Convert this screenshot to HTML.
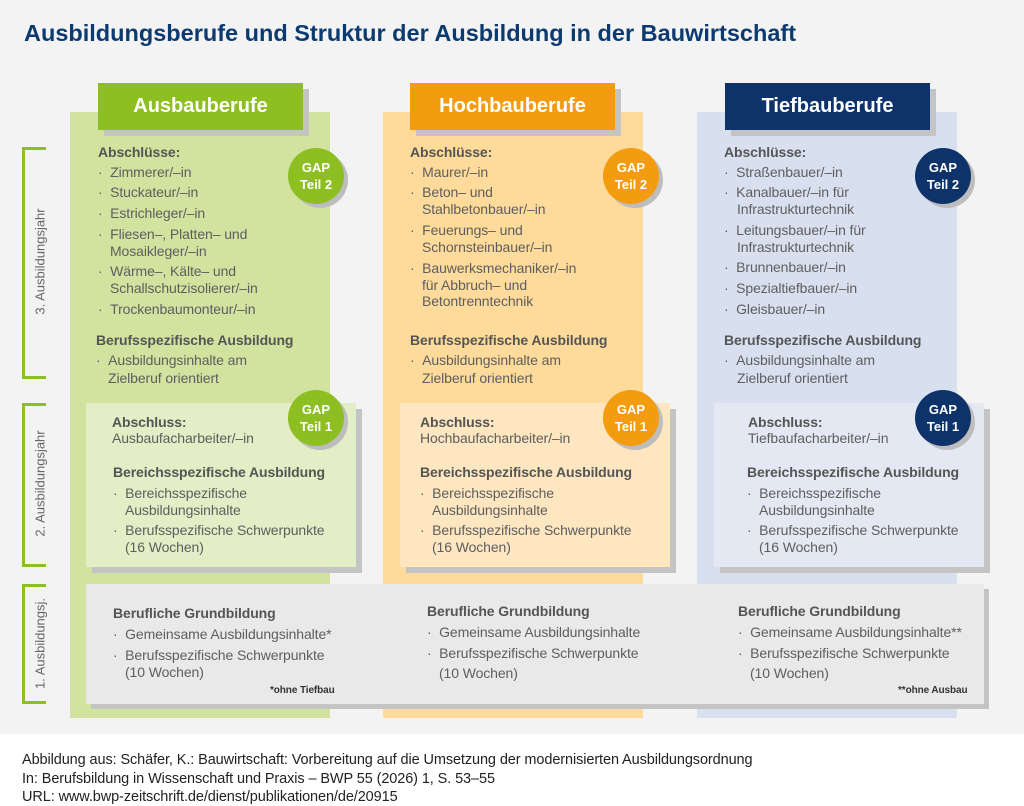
<!DOCTYPE html>
<html><head><meta charset="utf-8">
<style>
*{margin:0;padding:0;box-sizing:border-box}
body{width:1024px;height:806px;background:#fff;font-family:"Liberation Sans",sans-serif;position:relative;overflow:hidden}
.bg{position:absolute;left:0;top:0;width:1024px;height:734px;background:#f3f3f3}
.a{position:absolute}
.t{position:absolute;font-size:14px;line-height:18px;color:#5e5e5e;white-space:nowrap;letter-spacing:-0.1px}
.b{font-weight:bold;color:#555}
.hd{position:absolute;height:47px;color:#fff;font-weight:bold;font-size:20px;line-height:47px;text-align:center;box-shadow:6px 6px 0 #c4c4c4}
.gap{position:absolute;width:56px;height:56px;border-radius:50%;color:#fff;font-weight:bold;font-size:13px;line-height:17px;text-align:center;padding-top:11px;box-shadow:4px 4px 0 #bdbdbd}
.br{position:absolute;left:22px;width:24px;border:3px solid #8dbf22;border-right:none}
.vl{position:absolute;font-size:13px;color:#666;white-space:nowrap;transform:rotate(-90deg);transform-origin:center}
.ft{position:absolute;left:22px;font-size:14.5px;color:#222;white-space:nowrap;letter-spacing:-0.1px}
</style></head><body>
<div class="bg"></div>
<div class="a" style="left:24px;top:20px;font-size:23.5px;font-weight:bold;color:#0b3a70;white-space:nowrap;transform:scaleX(1.0);transform-origin:left top">Ausbildungsberufe und Struktur der Ausbildung in der Bauwirtschaft</div>

<div class="br" style="top:147px;height:232px"></div>
<div class="br" style="top:403px;height:164px"></div>
<div class="br" style="top:584px;height:120px"></div>
<div class="vl" style="left:-20px;top:254px;width:120px;text-align:center">3. Ausbildungsjahr</div>
<div class="vl" style="left:-20px;top:476px;width:120px;text-align:center">2. Ausbildungsjahr</div>
<div class="vl" style="left:-20px;top:636px;width:120px;text-align:center">1. Ausbildungsj.</div>

<div class="a" style="left:70px;top:112px;width:260px;height:606px;background:#d2e3a0"></div>
<div class="a" style="left:383px;top:112px;width:260px;height:606px;background:#fedb9b"></div>
<div class="a" style="left:697px;top:112px;width:260px;height:606px;background:#d8e0f0"></div>

<div class="hd" style="left:98px;top:83px;width:205px;background:#8dbf22">Ausbauberufe</div>
<div class="hd" style="left:410px;top:83px;width:205px;background:#f39c0f">Hochbauberufe</div>
<div class="hd" style="left:725px;top:83px;width:205px;background:#0d336a">Tiefbauberufe</div>

<div class="a" style="left:86px;top:403px;width:270px;height:164px;background:#e3edc6;box-shadow:6px 6px 0 #c4c4c4"></div>
<div class="a" style="left:400px;top:403px;width:270px;height:164px;background:#fde6c0;box-shadow:6px 6px 0 #c4c4c4"></div>
<div class="a" style="left:714px;top:403px;width:270px;height:164px;background:#e3e8f3;box-shadow:6px 6px 0 #c4c4c4"></div>
<div class="a" style="left:86px;top:584px;width:898px;height:120px;background:#e9e9e9;box-shadow:5px 5px 0 #c4c4c4"></div>

<div class="gap" style="left:288px;top:148px;background:#8dbf22">GAP<br>Teil 2</div>
<div class="gap" style="left:603px;top:148px;background:#f39c0f">GAP<br>Teil 2</div>
<div class="gap" style="left:915px;top:148px;background:#0d336a">GAP<br>Teil 2</div>
<div class="gap" style="left:288px;top:390px;background:#8dbf22">GAP<br>Teil 1</div>
<div class="gap" style="left:603px;top:390px;background:#f39c0f">GAP<br>Teil 1</div>
<div class="gap" style="left:915px;top:390px;background:#0d336a">GAP<br>Teil 1</div>

<div class="t b" style="left:98px;top:143px">Abschlüsse:</div>
<div class="t" style="left:98px;top:163px">· &nbsp;Zimmerer/–in</div>
<div class="t" style="left:98px;top:183px">· &nbsp;Stuckateur/–in</div>
<div class="t" style="left:98px;top:204px">· &nbsp;Estrichleger/–in</div>
<div class="t" style="left:98px;top:225px">· &nbsp;Fliesen–, Platten– und</div>
<div class="t" style="left:110px;top:242px">Mosaikleger/–in</div>
<div class="t" style="left:98px;top:262px">· &nbsp;Wärme–, Kälte– und</div>
<div class="t" style="left:110px;top:279px">Schallschutzisolierer/–in</div>
<div class="t" style="left:98px;top:300px">· &nbsp;Trockenbaumonteur/–in</div>
<div class="t b" style="left:96px;top:331px">Berufsspezifische Ausbildung</div>
<div class="t" style="left:96px;top:351px">· &nbsp;Ausbildungsinhalte am</div>
<div class="t" style="left:108px;top:369px">Zielberuf orientiert</div>

<div class="t b" style="left:112px;top:413px">Abschluss:</div>
<div class="t" style="left:112px;top:429px">Ausbaufacharbeiter/–in</div>
<div class="t b" style="left:113px;top:463px">Bereichsspezifische Ausbildung</div>
<div class="t" style="left:113px;top:484px">· &nbsp;Bereichsspezifische</div>
<div class="t" style="left:125px;top:501px">Ausbildungsinhalte</div>
<div class="t" style="left:113px;top:521px">· &nbsp;Berufsspezifische Schwerpunkte</div>
<div class="t" style="left:125px;top:538px">(16 Wochen)</div>

<div class="t b" style="left:113px;top:604px">Berufliche Grundbildung</div>
<div class="t" style="left:113px;top:625px">· &nbsp;Gemeinsame Ausbildungsinhalte*</div>
<div class="t" style="left:113px;top:646px">· &nbsp;Berufsspezifische Schwerpunkte</div>
<div class="t" style="left:125px;top:663px">(10 Wochen)</div>
<div class="t b" style="left:270px;top:682px;font-size:10px;color:#333">*ohne Tiefbau</div>

<div class="t b" style="left:410px;top:143px">Abschlüsse:</div>
<div class="t" style="left:410px;top:163px">· &nbsp;Maurer/–in</div>
<div class="t" style="left:410px;top:183px">· &nbsp;Beton– und</div>
<div class="t" style="left:422px;top:200px">Stahlbetonbauer/–in</div>
<div class="t" style="left:410px;top:221px">· &nbsp;Feuerungs– und</div>
<div class="t" style="left:422px;top:238px">Schornsteinbauer/–in</div>
<div class="t" style="left:410px;top:259px">· &nbsp;Bauwerksmechaniker/–in</div>
<div class="t" style="left:422px;top:276px">für Abbruch– und</div>
<div class="t" style="left:422px;top:292px">Betontrenntechnik</div>
<div class="t b" style="left:410px;top:331px">Berufsspezifische Ausbildung</div>
<div class="t" style="left:410px;top:351px">· &nbsp;Ausbildungsinhalte am</div>
<div class="t" style="left:422px;top:369px">Zielberuf orientiert</div>

<div class="t b" style="left:420px;top:413px">Abschluss:</div>
<div class="t" style="left:420px;top:429px">Hochbaufacharbeiter/–in</div>
<div class="t b" style="left:420px;top:463px">Bereichsspezifische Ausbildung</div>
<div class="t" style="left:420px;top:484px">· &nbsp;Bereichsspezifische</div>
<div class="t" style="left:432px;top:501px">Ausbildungsinhalte</div>
<div class="t" style="left:420px;top:521px">· &nbsp;Berufsspezifische Schwerpunkte</div>
<div class="t" style="left:432px;top:538px">(16 Wochen)</div>

<div class="t b" style="left:427px;top:602px">Berufliche Grundbildung</div>
<div class="t" style="left:427px;top:623px">· &nbsp;Gemeinsame Ausbildungsinhalte</div>
<div class="t" style="left:427px;top:644px">· &nbsp;Berufsspezifische Schwerpunkte</div>
<div class="t" style="left:439px;top:664px">(10 Wochen)</div>

<div class="t b" style="left:724px;top:143px">Abschlüsse:</div>
<div class="t" style="left:724px;top:163px">· &nbsp;Straßenbauer/–in</div>
<div class="t" style="left:724px;top:183px">· &nbsp;Kanalbauer/–in für</div>
<div class="t" style="left:737px;top:200px">Infrastrukturtechnik</div>
<div class="t" style="left:724px;top:221px">· &nbsp;Leitungsbauer/–in für</div>
<div class="t" style="left:737px;top:238px">Infrastrukturtechnik</div>
<div class="t" style="left:724px;top:258px">· &nbsp;Brunnenbauer/–in</div>
<div class="t" style="left:724px;top:279px">· &nbsp;Spezialtiefbauer/–in</div>
<div class="t" style="left:724px;top:300px">· &nbsp;Gleisbauer/–in</div>
<div class="t b" style="left:724px;top:331px">Berufsspezifische Ausbildung</div>
<div class="t" style="left:724px;top:351px">· &nbsp;Ausbildungsinhalte am</div>
<div class="t" style="left:737px;top:369px">Zielberuf orientiert</div>

<div class="t b" style="left:748px;top:413px">Abschluss:</div>
<div class="t" style="left:748px;top:429px">Tiefbaufacharbeiter/–in</div>
<div class="t b" style="left:747px;top:463px">Bereichsspezifische Ausbildung</div>
<div class="t" style="left:747px;top:484px">· &nbsp;Bereichsspezifische</div>
<div class="t" style="left:759px;top:501px">Ausbildungsinhalte</div>
<div class="t" style="left:747px;top:521px">· &nbsp;Berufsspezifische Schwerpunkte</div>
<div class="t" style="left:759px;top:538px">(16 Wochen)</div>

<div class="t b" style="left:738px;top:602px">Berufliche Grundbildung</div>
<div class="t" style="left:738px;top:623px">· &nbsp;Gemeinsame Ausbildungsinhalte**</div>
<div class="t" style="left:738px;top:644px">· &nbsp;Berufsspezifische Schwerpunkte</div>
<div class="t" style="left:750px;top:664px">(10 Wochen)</div>
<div class="t b" style="left:898px;top:682px;font-size:10px;color:#333">**ohne Ausbau</div>

<div class="ft" style="top:752px">Abbildung aus: Schäfer, K.: Bauwirtschaft: Vorbereitung auf die Umsetzung der modernisierten Ausbildungsordnung</div>
<div class="ft" style="top:771px">In: Berufsbildung in Wissenschaft und Praxis – BWP 55 (2026) 1, S. 53–55</div>
<div class="ft" style="top:789px">URL: www.bwp-zeitschrift.de/dienst/publikationen/de/20915</div>
</body></html>
